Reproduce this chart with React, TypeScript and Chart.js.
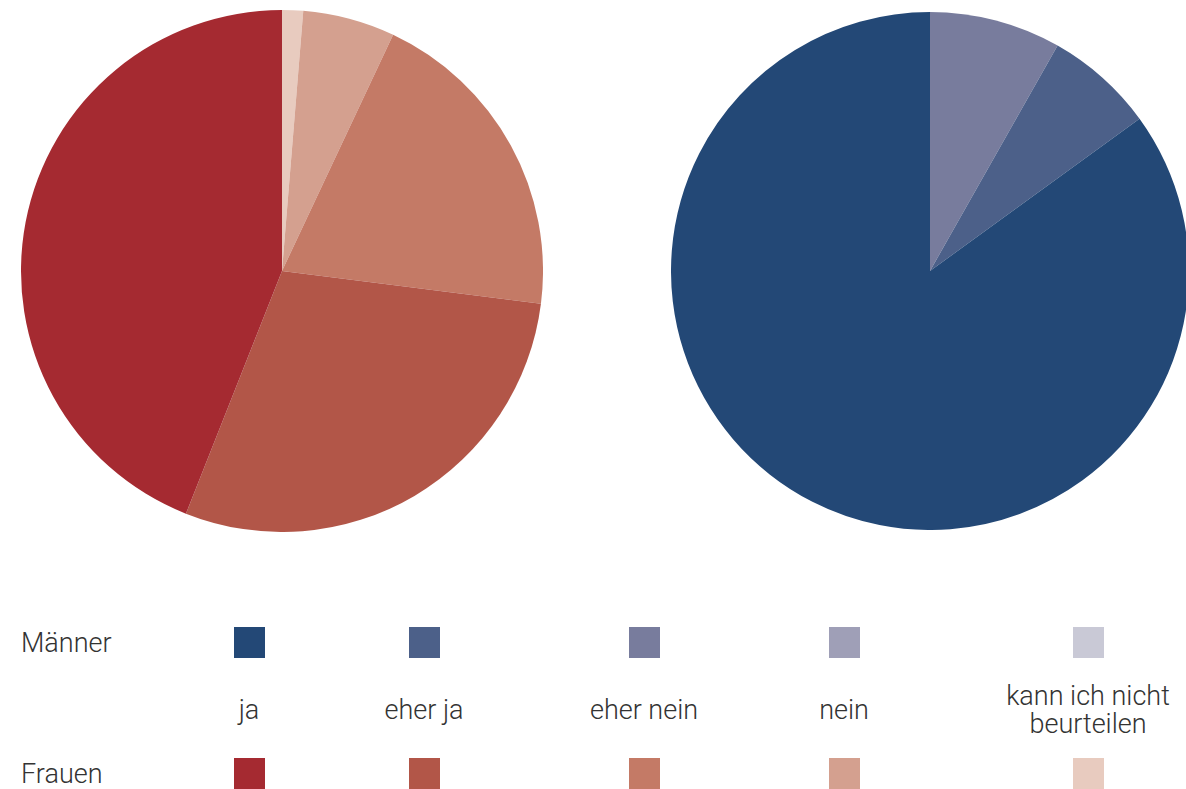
import React, { useEffect, useRef } from "react";
import { Chart, registerables } from "chart.js";

Chart.register(...registerables);

const categories = ["ja", "eher ja", "eher nein", "nein", "kann ich nicht beurteilen"];
const legendLabels = [["ja"], ["eher ja"], ["eher nein"], ["nein"], ["kann ich nicht", "beurteilen"]];
const frauenValues = [44, 29, 20, 5.7, 1.3];
const maennerValues = [85, 6.8, 8.2, 0, 0];
const frauenColors = ["#a52a31", "#b25648", "#c47a66", "#d4a08f", "#e8cbbf"];
const maennerColors = ["#234876", "#4c6089", "#787c9d", "#9f9fb7", "#c9c9d6"];

const legendX = [249, 424, 644, 844, 1088];
const FONT = "Roboto, 'Liberation Sans', Arial, sans-serif";

function PieCanvas(props: { values: number[]; colors: string[]; left: number; top: number; size: number }) {
  const ref = useRef<HTMLCanvasElement | null>(null);
  useEffect(() => {
    if (!ref.current) return;
    // drawn clockwise from 12 o'clock in reverse category order
    const labels = [...categories].reverse();
    const data = [...props.values].reverse();
    const colors = [...props.colors].reverse();
    const chart = new Chart(ref.current, {
      type: "pie",
      data: {
        labels,
        datasets: [{ data, backgroundColor: colors, borderWidth: 0 }],
      },
      options: {
        responsive: false,
        animation: false,
        layout: { padding: 0 },
        plugins: { legend: { display: false }, tooltip: { enabled: false } },
      },
    });
    return () => chart.destroy();
  }, []);
  return (
    <canvas
      ref={ref}
      width={props.size}
      height={props.size}
      style={{ position: "absolute", left: props.left, top: props.top, width: props.size, height: props.size }}
    />
  );
}

export default function App() {
  const textStyle: React.CSSProperties = {
    position: "absolute",
    fontFamily: FONT,
    fontWeight: 300,
    fontSize: 27,
    color: "#333",
    lineHeight: "28px",
    whiteSpace: "nowrap",
  };
  return (
    <div style={{ position: "fixed", left: 0, top: 0, width: 1186, height: 789, overflow: "hidden", background: "#fff" }}>
      <PieCanvas values={frauenValues} colors={frauenColors} left={21} top={10} size={522} />
      <PieCanvas values={maennerValues} colors={maennerColors} left={671} top={12} size={518} />
      <div style={{ ...textStyle, left: 21, top: 629 }}>Männer</div>
      <div style={{ ...textStyle, left: 21, top: 760 }}>Frauen</div>
      {categories.map((c, i) => (
        <React.Fragment key={c}>
          <div style={{ position: "absolute", left: legendX[i] - 15, top: 627, width: 31, height: 31, background: maennerColors[i] }} />
          <div style={{ position: "absolute", left: legendX[i] - 15, top: 758, width: 31, height: 31, background: frauenColors[i] }} />
          <div
            style={{
              ...textStyle,
              left: legendX[i] - 150,
              width: 300,
              textAlign: "center",
              top: legendLabels[i].length > 1 ? 682 : 696,
            }}
          >
            {legendLabels[i].map((l, j) => (
              <div key={j}>{l}</div>
            ))}
          </div>
        </React.Fragment>
      ))}
    </div>
  );
}
